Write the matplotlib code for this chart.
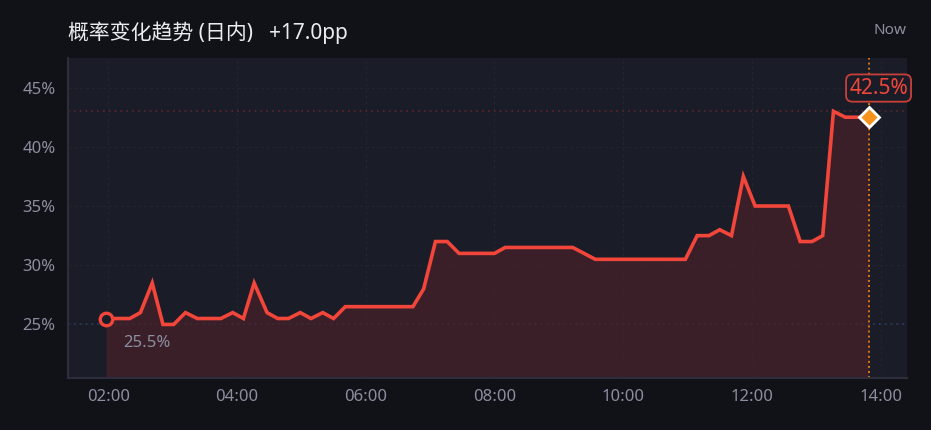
import matplotlib
matplotlib.use("Agg")
import matplotlib.pyplot as plt

# intraday probability readings (time, percent)
times = ["01:58", "02:20", "02:30", "02:41", "02:51", "03:01", "03:12", "03:23",
         "03:45", "03:56", "04:06", "04:16", "04:28", "04:38", "04:48", "04:59",
         "05:09", "05:20", "05:30", "05:41", "06:44", "06:54", "07:05", "07:16",
         "07:27", "08:00", "08:10", "09:13", "09:34", "10:58", "11:09", "11:20",
         "11:30", "11:41", "11:52", "12:03", "12:34", "12:45", "12:56", "13:06",
         "13:16", "13:27", "13:49"]
probs = [25.5, 25.5, 26.0, 28.5, 25.0, 25.0, 26.0, 25.5,
         25.5, 26.0, 25.5, 28.5, 26.0, 25.5, 25.5, 26.0,
         25.5, 26.0, 25.5, 26.5, 26.5, 28.0, 32.0, 32.0,
         31.0, 31.0, 31.5, 31.5, 30.5, 30.5, 32.5, 32.5,
         33.0, 32.5, 37.5, 35.0, 35.0, 32.0, 32.0, 32.5,
         43.0, 42.5, 42.5]
xticks = ["02:00", "04:00", "06:00", "08:00", "10:00", "12:00", "14:00"]
yticks = [25, 30, 35, 40, 45]
title = "概率变化趋势 (日内)"


def to_hours(s):
    h, m = s.split(":")
    return int(h) + int(m) / 60


x = [to_hours(t) for t in times]
xt = [to_hours(t) for t in xticks]

BG = "#111217"
PANEL = "#1a1c27"
RED = "#f2463a"
GREY = "#8b8e9f"

plt.rcParams["font.family"] = ["Noto Sans", "Noto Sans CJK SC", "DejaVu Sans"]

fig = plt.figure(figsize=(9.31, 4.30), dpi=100, facecolor=BG)
ax = fig.add_axes([0.073, 0.1216, 0.9012, 0.7435])
ax.set_facecolor(PANEL)

span = x[-1] - x[0]
ax.set_xlim(x[0] - 0.05 * span, x[-1] + 0.05 * span)
ax.set_ylim(min(probs) - 4.5, max(probs) + 4.5)

ax.grid(True, color="#24262f", linestyle=(0, (3, 3)), linewidth=0.7)
ax.set_axisbelow(True)

# reference lines for max / min
ax.axhline(max(probs), color="#5e272c", linestyle=(0, (1, 2.5)), linewidth=1.2, zorder=1)
ax.axhline(min(probs), color="#2c3b63", linestyle=(0, (1, 2.5)), linewidth=1.2, zorder=1)

ax.fill_between(x, probs, ax.get_ylim()[0], color="#45212a", alpha=0.75,
                linewidth=0, zorder=2)
ax.plot(x, probs, color=RED, linewidth=2.6, solid_joinstyle="miter", zorder=3)

# now marker
ax.axvline(x[-1], color="#d9780f", linestyle=(0, (1, 1.6)), linewidth=1.4, zorder=2)
ax.plot(x[0], probs[0], "o", markersize=9, markerfacecolor=PANEL,
        markeredgecolor=RED, markeredgewidth=2.4, zorder=4)
ax.plot(x[-1], probs[-1], "D", markersize=10, markerfacecolor="#f7931a",
        markeredgecolor="white", markeredgewidth=2, zorder=5)

ax.annotate(f"{probs[0]:.1f}%", (x[0], probs[0]), xytext=(12, -12),
            textcoords="offset points", color=GREY, fontsize=12,
            ha="left", va="top")
ax.annotate(f"{probs[-1]:.1f}%", (x[-1], probs[-1]), xytext=(7, 21),
            textcoords="offset points", color=RED, fontsize=15,
            ha="center", va="center",
            bbox=dict(boxstyle="round,pad=0.15,rounding_size=0.3",
                      facecolor=PANEL, edgecolor="#c7403a", linewidth=1.3))

ax.set_xticks(xt)
ax.set_xticklabels(xticks)
ax.set_yticks(yticks)
ax.set_yticklabels([f"{v}%" for v in yticks])
ax.tick_params(length=0, colors=GREY, labelsize=12, pad=8)
ax.tick_params(axis="y", pad=9)

for side in ["top", "right"]:
    ax.spines[side].set_visible(False)
for side in ["left", "bottom"]:
    ax.spines[side].set_color("#2c2e3c")
    ax.spines[side].set_linewidth(1.5)

change = probs[-1] - probs[0]
fig.text(0.073, 0.925, f"{title}   {change:+.1f}pp", color="#ececf0",
         fontsize=15, ha="left", va="center")
fig.text(0.974, 0.928, "Now", color=GREY, fontsize=11, ha="right", va="center")

fig.savefig("out.png", dpi=100, facecolor=BG)
